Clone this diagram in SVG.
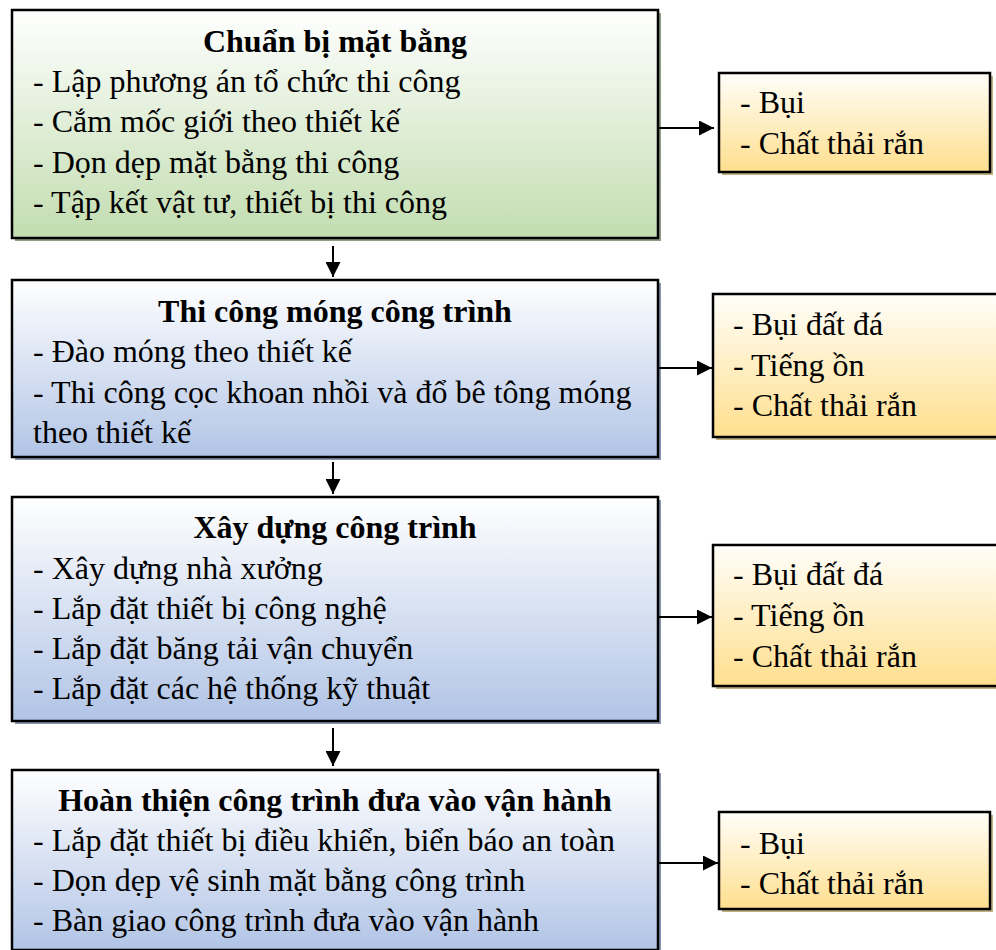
<svg xmlns="http://www.w3.org/2000/svg" width="996" height="950" viewBox="0 0 996 950">
<style>
text{font-family:"Liberation Serif","Times New Roman",serif;font-size:32px;fill:#000}
.t{font-weight:bold;text-anchor:middle}
.box{stroke:#000;stroke-width:2.5}
.edge{stroke:#000;stroke-width:2;fill:none}
</style>
<defs>
<linearGradient id="gG" x1="0" y1="0" x2="0" y2="1"><stop offset="0" stop-color="#ffffff"/><stop offset="1" stop-color="#c2ddb0"/></linearGradient>
<linearGradient id="gB" x1="0" y1="0" x2="0" y2="1"><stop offset="0" stop-color="#ffffff"/><stop offset="1" stop-color="#b1c4e6"/></linearGradient>
<linearGradient id="gY" x1="0" y1="0" x2="0" y2="1"><stop offset="0" stop-color="#fffefa"/><stop offset="1" stop-color="#ffdf8e"/></linearGradient>
<marker id="ah" viewBox="0 0 10 10" refX="10" refY="5" markerWidth="8" markerHeight="7.5" orient="auto" markerUnits="strokeWidth"><path d="M0,0 L10,5 L0,10 z" fill="#000"/></marker>
</defs>

<g id="n1">
<rect x="15" y="13" width="646" height="228" fill="#8e9e84"/>
<rect class="box" x="12" y="10" width="646" height="228" fill="url(#gG)"/>
<text class="t" x="335" y="52">Chuẩn bị mặt bằng</text>
<text x="33" y="92">- Lập phương án tổ chức thi công</text>
<text x="33" y="132">- Cắm mốc giới theo thiết kế</text>
<text x="33" y="173">- Dọn dẹp mặt bằng thi công</text>
<text x="33" y="213">- Tập kết vật tư, thiết bị thi công</text>
</g>

<g id="r1">
<rect x="722" y="76" width="271" height="99" fill="#bfae82"/>
<rect class="box" x="719" y="73" width="271" height="99" fill="url(#gY)"/>
<text x="740" y="113">- Bụi</text>
<text x="740" y="154">- Chất thải rắn</text>
</g>

<g id="n2">
<rect x="15" y="283" width="646" height="177" fill="#8694ad"/>
<rect class="box" x="12" y="280" width="646" height="177" fill="url(#gB)"/>
<text class="t" x="335" y="322">Thi công móng công trình</text>
<text x="33" y="362">- Đào móng theo thiết kế</text>
<text x="33" y="403">- Thi công cọc khoan nhồi và đổ bê tông móng</text>
<text x="33" y="443">theo thiết kế</text>
</g>

<g id="r2">
<rect x="716" y="297" width="290" height="143" fill="#bfae82"/>
<rect class="box" x="713" y="294" width="290" height="143" fill="url(#gY)"/>
<text x="733" y="335">- Bụi đất đá</text>
<text x="733" y="376">- Tiếng ồn</text>
<text x="733" y="416">- Chất thải rắn</text>
</g>

<g id="n3">
<rect x="15" y="500" width="646" height="224" fill="#8694ad"/>
<rect class="box" x="12" y="497" width="646" height="224" fill="url(#gB)"/>
<text class="t" x="335" y="538">Xây dựng công trình</text>
<text x="33" y="579">- Xây dựng nhà xưởng</text>
<text x="33" y="619">- Lắp đặt thiết bị công nghệ</text>
<text x="33" y="659">- Lắp đặt băng tải vận chuyển</text>
<text x="33" y="699">- Lắp đặt các hệ thống kỹ thuật</text>
</g>

<g id="r3">
<rect x="716" y="548" width="290" height="141" fill="#bfae82"/>
<rect class="box" x="713" y="545" width="290" height="141" fill="url(#gY)"/>
<text x="733" y="585">- Bụi đất đá</text>
<text x="733" y="626">- Tiếng ồn</text>
<text x="733" y="667">- Chất thải rắn</text>
</g>

<g id="n4">
<rect x="15" y="773" width="646" height="180" fill="#8694ad"/>
<rect class="box" x="12" y="770" width="646" height="180" fill="url(#gB)"/>
<text class="t" x="335" y="811">Hoàn thiện công trình đưa vào vận hành</text>
<text x="33" y="851">- Lắp đặt thiết bị điều khiển, biển báo an toàn</text>
<text x="33" y="891">- Dọn dẹp vệ sinh mặt bằng công trình</text>
<text x="33" y="931">- Bàn giao công trình đưa vào vận hành</text>
</g>

<g id="r4">
<rect x="722" y="815" width="271" height="97" fill="#bfae82"/>
<rect class="box" x="719" y="812" width="271" height="97" fill="url(#gY)"/>
<text x="740" y="854">- Bụi</text>
<text x="740" y="894">- Chất thải rắn</text>
</g>

<g id="connectors">
<line class="edge" x1="659" y1="128" x2="714" y2="128" marker-end="url(#ah)"/>
<line class="edge" x1="659" y1="368" x2="712" y2="368" marker-end="url(#ah)"/>
<line class="edge" x1="659" y1="617" x2="712" y2="617" marker-end="url(#ah)"/>
<line class="edge" x1="659" y1="863" x2="718" y2="863" marker-end="url(#ah)"/>
<line class="edge" x1="333" y1="246" x2="333" y2="277" marker-end="url(#ah)"/>
<line class="edge" x1="333" y1="462" x2="333" y2="494" marker-end="url(#ah)"/>
<line class="edge" x1="333" y1="728" x2="333" y2="766" marker-end="url(#ah)"/>
</g>
</svg>
